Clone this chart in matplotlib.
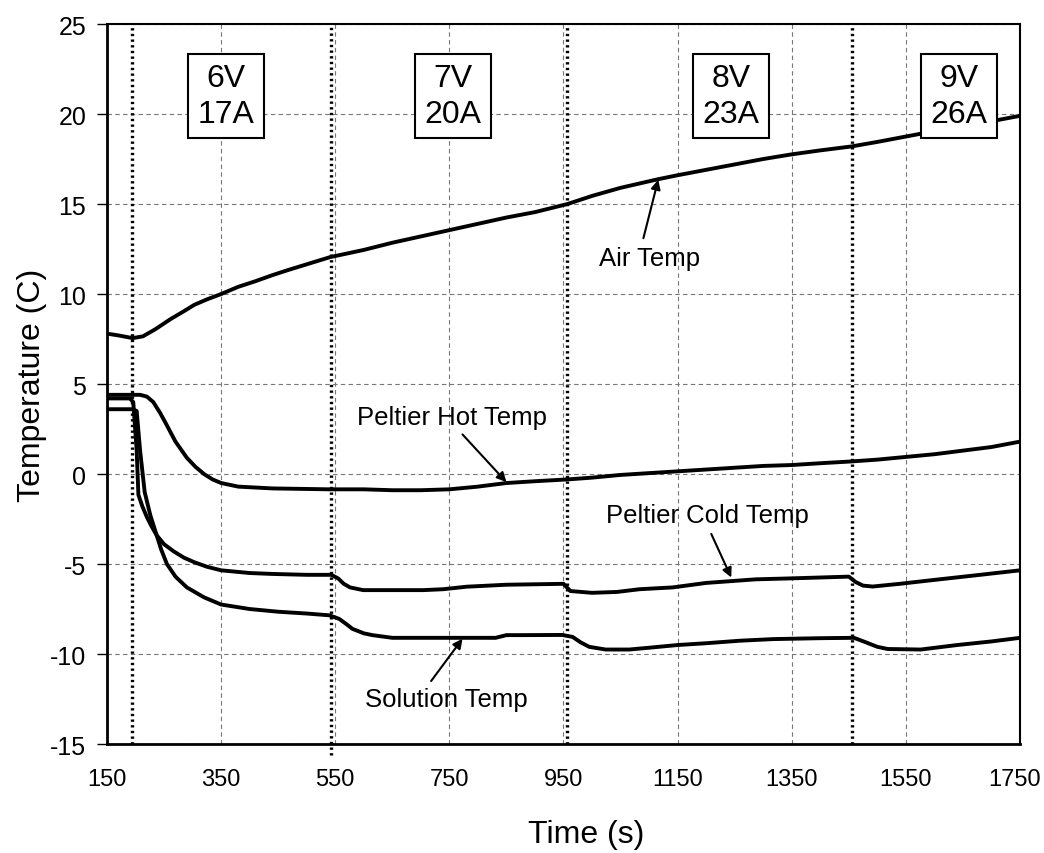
import matplotlib
matplotlib.use('Agg')
import matplotlib.pyplot as plt
import matplotlib.transforms as mtransforms

plt.rcParams['font.family'] = ['Liberation Sans', 'DejaVu Sans']
plt.rcParams['axes.unicode_minus'] = False

# --- data ---
air_t = [150, 170, 195, 213, 235, 261, 285, 303, 325, 350, 380, 409, 440, 469, 505, 541,
         600, 650, 700, 750, 800, 850, 900, 957, 1000, 1050, 1116, 1150, 1200, 1250, 1300,
         1350, 1400, 1455, 1500, 1550, 1600, 1650, 1700, 1750]
air_v = [7.8, 7.7, 7.55, 7.65, 8.05, 8.6, 9.05, 9.4, 9.7, 10.0, 10.4, 10.7, 11.05, 11.35, 11.7, 12.05,
         12.45, 12.85, 13.2, 13.55, 13.9, 14.25, 14.55, 15.0, 15.45, 15.9, 16.38, 16.6, 16.9, 17.2, 17.5,
         17.76, 17.98, 18.2, 18.45, 18.75, 19.05, 19.35, 19.6, 19.9]

hot_t = [150, 180, 208, 220, 231, 243, 255, 270, 290, 305, 320, 335, 350, 380, 440, 540,
         600, 650, 700, 750, 800, 850, 900, 957, 1000, 1050, 1100, 1150, 1200, 1250, 1300,
         1350, 1400, 1455, 1500, 1550, 1600, 1650, 1700, 1750]
hot_v = [4.4, 4.4, 4.4, 4.3, 4.0, 3.4, 2.7, 1.8, 0.9, 0.4, 0.0, -0.3, -0.5, -0.7, -0.8, -0.85,
         -0.85, -0.9, -0.9, -0.85, -0.7, -0.5, -0.4, -0.3, -0.2, -0.05, 0.05, 0.15, 0.25, 0.35, 0.45,
         0.5, 0.6, 0.7, 0.8, 0.95, 1.1, 1.3, 1.5, 1.8]

cold_t = [150, 190, 196, 202, 205, 212, 220, 228, 237, 250, 267, 285, 303, 325, 350, 400, 439,
          500, 543, 555, 565, 576, 599, 650, 704, 739, 780, 850, 950, 962, 1000, 1044, 1083,
          1141, 1200, 1287, 1346, 1450, 1462, 1475, 1492, 1539, 1609, 1680, 1750]
cold_v = [4.2, 4.2, 4.0, 1.3, -1.15, -1.8, -2.4, -2.9, -3.4, -3.9, -4.3, -4.65, -4.9, -5.15, -5.35, -5.5, -5.55,
          -5.6, -5.6, -5.8, -6.1, -6.3, -6.45, -6.45, -6.45, -6.4, -6.26, -6.15, -6.1, -6.5, -6.6, -6.55, -6.4,
          -6.3, -6.05, -5.85, -5.8, -5.7, -6.0, -6.2, -6.25, -6.1, -5.85, -5.6, -5.35]

sol_t = [150, 195, 202, 208, 216, 226, 237, 245, 255, 270, 290, 320, 350, 400, 450, 500, 540,
         557, 570, 580, 600, 615, 650, 700, 750, 800, 831, 850, 878, 948, 966, 980, 995, 1024,
         1065, 1100, 1150, 1200, 1259, 1318, 1400, 1459, 1480, 1500, 1518, 1576, 1640, 1700, 1750]
sol_v = [3.6, 3.6, 3.5, 1.3, -1.0, -2.3, -3.4, -4.2, -5.0, -5.7, -6.3, -6.85, -7.25, -7.5, -7.65, -7.75, -7.85,
         -8.05, -8.35, -8.6, -8.85, -8.95, -9.1, -9.1, -9.1, -9.1, -9.1, -8.95, -8.95, -8.94, -9.05, -9.35, -9.6, -9.75,
         -9.75, -9.65, -9.5, -9.4, -9.26, -9.17, -9.12, -9.1, -9.35, -9.6, -9.72, -9.75, -9.5, -9.3, -9.1]

# voltage step changes
step_times = [193, 543, 957, 1455]
volts = [6, 7, 8, 9]
amps = [17, 20, 23, 26]
box_x = [358, 756, 1244, 1643]

fig = plt.figure(figsize=(10.44, 8.54), dpi=100)
ax = fig.add_axes([0.1025, 0.1276, 0.8745, 0.8431])

for t, v in [(air_t, air_v), (hot_t, hot_v), (cold_t, cold_v), (sol_t, sol_v)]:
    ax.plot(t, v, color='black', lw=2.8, solid_joinstyle='round', zorder=3)

# dotted step lines
for i, st in enumerate(step_times):
    ymin = -0.015 if i == 1 else 0
    ax.axvline(st, ymin=ymin, ymax=1, color='black', lw=2.4,
               linestyle=(0, (0.7, 1.0)), clip_on=False, zorder=2)

# boxes with voltage / current
for bx, v, a in zip(box_x, volts, amps):
    ax.text(bx, 21, f'{v}V\n{a}A', ha='center', va='center', fontsize=23, linespacing=1.25,
            bbox=dict(boxstyle='square,pad=0.3', fc='white', ec='black', lw=1.5), zorder=5)

# curve labels
arrow = dict(arrowstyle='-|>', color='black', lw=1.5, mutation_scale=14, shrinkA=0, shrinkB=0)
ax.text(1101, 12.0, 'Air Temp', ha='center', va='center', fontsize=18.5)
ax.annotate('', xy=(1116, 16.35), xytext=(1090, 13.1), arrowprops=arrow)
ax.text(754, 3.15, 'Peltier Hot Temp', ha='center', va='center', fontsize=18.5)
ax.annotate('', xy=(850, -0.45), xytext=(773, 2.2), arrowprops=arrow)
ax.text(1203, -2.3, 'Peltier Cold Temp', ha='center', va='center', fontsize=18.5)
ax.annotate('', xy=(1244, -5.75), xytext=(1209, -3.33), arrowprops=arrow)
ax.text(744, -12.5, 'Solution Temp', ha='center', va='center', fontsize=18.5)
ax.annotate('', xy=(773, -9.15), xytext=(718, -11.5), arrowprops=arrow)

ax.set_xlim(150, 1750)
ax.set_ylim(-15, 25)
ax.set_xticks(range(150, 1751, 200))
ax.set_yticks(range(-15, 26, 5))
ax.set_axisbelow(True)
ax.grid(True, linestyle=(0, (4, 3)), color='#777777', lw=0.8)
ax.tick_params(axis='x', length=0, pad=17, labelsize=17)
ax.tick_params(axis='y', length=7, width=1, direction='out', pad=8, labelsize=18)

# nudge the last x label so it stays inside the figure
last = ax.get_xticklabels()[-1]
last.set_transform(last.get_transform() +
                   mtransforms.ScaledTranslation(-5 / 100, 0, fig.dpi_scale_trans))

for side in ['left', 'bottom']:
    ax.spines[side].set_linewidth(2.0)
for side in ['top', 'right']:
    ax.spines[side].set_linewidth(1.5)

ax.set_xlabel('Time (s)', fontsize=23)
ax.xaxis.set_label_coords(0.525, -0.125)
ax.xaxis.label.set_va('center')
ax.set_ylabel('Temperature (C)', fontsize=23)
ax.yaxis.set_label_coords(-0.082, 0.5)
ax.yaxis.label.set_va('center')

fig.savefig('out.png', dpi=100)
